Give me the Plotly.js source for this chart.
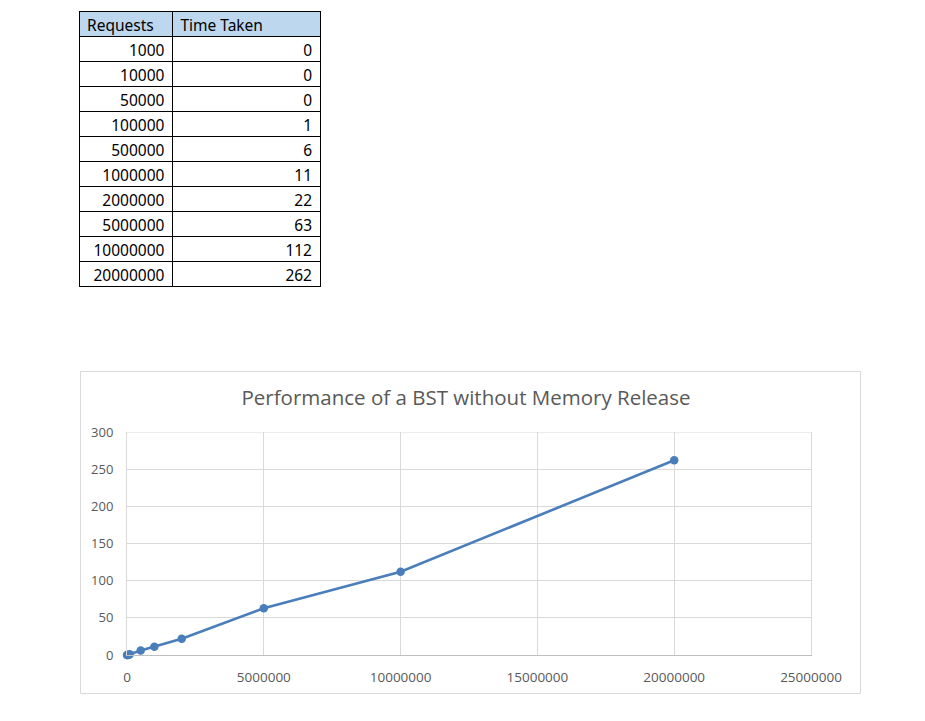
<!DOCTYPE html>
<html>
<head>
<meta charset="utf-8">
<script src="https://cdn.plot.ly/plotly-3.0.1.min.js"></script>
<style>html,body{margin:0;padding:0;background:#fff;}#chart{width:925px;height:721px;}</style>
</head>
<body>
<div id="chart"></div>
<script>
const headers = ["Requests", "Time Taken"];
const requests = [1000, 10000, 50000, 100000, 500000, 1000000, 2000000, 5000000, 10000000, 20000000];
const timeTaken = [0, 0, 0, 1, 6, 11, 22, 63, 112, 262];
const chartTitle = "Performance of a BST without Memory Release";
const xMax = 25000000;
const yMax = 300;

const W = 925, H = 721;
const px = v => v / W;
const py = v => (H - v) / H;

const tableFont = {family: 'Noto Sans, Open Sans, sans-serif', size: 15.5, color: '#000000'};

const tableTrace = {
  type: 'table',
  domain: {x: [px(79), px(320)], y: [py(287), py(11)]},
  columnwidth: [93, 147],
  header: {
    values: headers,
    align: ['left', 'left'],
    height: 25,
    fill: {color: '#BDD7EE'},
    line: {color: '#000000', width: 1},
    font: tableFont
  },
  cells: {
    values: [requests.map(String), timeTaken.map(String)],
    align: ['right', 'right'],
    height: 25,
    fill: {color: '#FFFFFF'},
    line: {color: '#000000', width: 1},
    font: tableFont
  }
};

const lineTrace = {
  type: 'scatter',
  mode: 'lines+markers',
  x: requests,
  y: timeTaken,
  xaxis: 'x',
  yaxis: 'y',
  line: {color: '#4A7EBB', width: 2.6},
  marker: {color: '#4A7EBB', size: 8.5},
  hoverinfo: 'x+y',
  showlegend: false,
  cliponaxis: false
};

const axisFont = {family: 'Open Sans, sans-serif', size: 13, color: '#595959'};

const layout = {
  width: W,
  height: H,
  margin: {l: 0, r: 0, t: 0, b: 0},
  paper_bgcolor: '#FFFFFF',
  plot_bgcolor: '#FFFFFF',
  showlegend: false,
  title: {
    text: chartTitle,
    x: 466 / W,
    y: py(398),
    xref: 'paper',
    yref: 'paper',
    xanchor: 'center',
    yanchor: 'middle',
    font: {family: 'Open Sans, sans-serif', size: 20.5, color: '#595959'}
  },
  xaxis: {
    domain: [px(127), px(811)],
    anchor: 'y',
    range: [0, xMax],
    tick0: 0,
    dtick: 5000000,
    tickformat: 'd',
    showgrid: true,
    gridcolor: '#D9D9D9',
    gridwidth: 1,
    zeroline: true,
    zerolinecolor: '#D9D9D9',
    zerolinewidth: 1,
    showline: true,
    linecolor: '#BFBFBF',
    linewidth: 1,
    mirror: false,
    ticks: 'outside',
    ticklen: 10,
    tickcolor: 'rgba(0,0,0,0)',
    tickfont: {family: 'Open Sans, sans-serif', size: 13.5, color: '#595959'},
    fixedrange: true
  },
  yaxis: {
    domain: [py(655), py(432)],
    anchor: 'x',
    range: [0, yMax],
    tick0: 0,
    dtick: 50,
    showgrid: true,
    gridcolor: '#D9D9D9',
    gridwidth: 1,
    zeroline: false,
    showline: true,
    linecolor: '#D9D9D9',
    linewidth: 1,
    mirror: true,
    ticks: 'outside',
    ticklen: 10,
    tickcolor: 'rgba(0,0,0,0)',
    tickfont: axisFont,
    fixedrange: true
  },
  shapes: [
    {
      type: 'rect', xref: 'paper', yref: 'paper',
      x0: px(80.5), x1: px(860.5), y0: py(693.5), y1: py(371.5),
      line: {color: '#D9D9D9', width: 1},
      fillcolor: 'rgba(0,0,0,0)',
      layer: 'below'
    },
    {
      type: 'line', xref: 'x', yref: 'y',
      x0: 0, x1: xMax, y0: yMax, y1: yMax,
      line: {color: '#D9D9D9', width: 1},
      layer: 'below'
    }
  ]
};

Plotly.newPlot('chart', [tableTrace, lineTrace], layout, {displayModeBar: false, staticPlot: true});
</script>
</body>
</html>
